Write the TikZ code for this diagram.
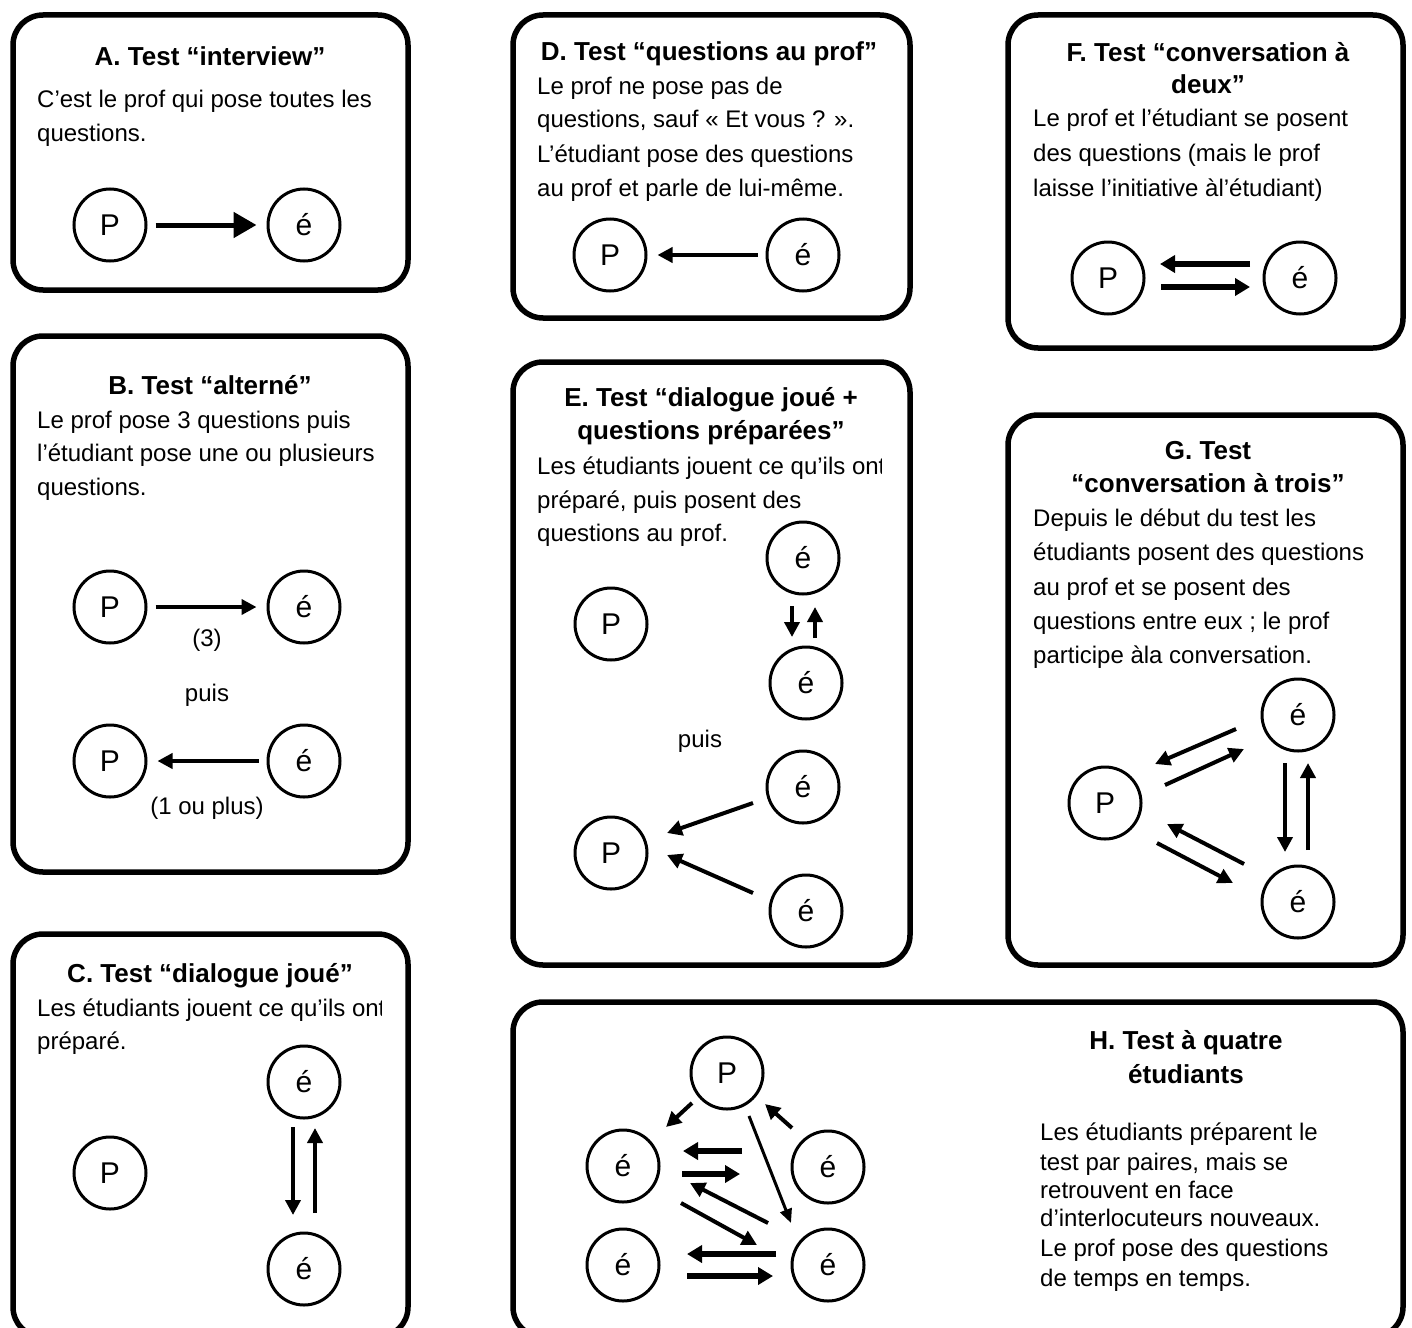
\documentclass[tikz,border=0pt]{standalone}
\usepackage{fontspec}
\setmainfont{Liberation Sans}
\usetikzlibrary{arrows.meta,calc}

\begin{document}
\begin{tikzpicture}[x=1pt,y=-1pt,
  panel/.style={draw, line width=5.5pt, rounded corners=30pt},
  pers/.style={circle, draw, line width=3pt, minimum size=72pt, inner sep=0pt,
               font=\fontsize{30}{30}\selectfont},
  txt/.style={anchor=base west, inner sep=0pt, font=\fontsize{24}{24}\selectfont},
  lbl/.style={anchor=base, inner sep=0pt, font=\fontsize{24}{24}\selectfont},
  ttl/.style={anchor=base, inner sep=0pt, font=\bfseries\fontsize{26}{26}\selectfont},
  bigarr/.style={line width=5pt, -{Triangle[length=23pt,width=25pt]}},
  arr/.style={line width=4.5pt, -{Triangle[length=15pt,width=15pt]}},
  fatarr/.style={line width=6pt, -{Triangle[length=15pt,width=17pt]}},
  midarr/.style={line width=4pt, -{Triangle[length=15pt,width=15pt]}},
  thinarr/.style={line width=3pt, -{Triangle[length=14pt,width=12pt]}},
]
\fill[white] (0,0) rectangle (1412,1327);
\clip (0,0) rectangle (1412,1327);

% ---------- frames ----------
\draw[panel] (13,15) rectangle (408,290);
\draw[panel] (13,336) rectangle (408,872);
\draw[panel] (13,934) rectangle (408,1337);
\draw[panel] (513,15) rectangle (910,318);
\draw[panel] (513,362) rectangle (910,965);
\draw[panel] (1008,15) rectangle (1403,348);
\draw[panel] (1008,415) rectangle (1403,965);
\draw[panel] (513,1002) rectangle (1403,1337);

% ---------- A ----------
\node[ttl] (tA) at (210,66) {A. Test “interview”};
\node[txt] (xA1) at (37,108) {C’est le prof qui pose toutes les};
\node[txt] (xA2) at (37,141) {questions.};
\node[pers] (PA) at (110,225) {P};
\node[pers] (eA) at (304,225) {é};
\draw[bigarr] ($(PA.east)+(8,0)$) -- ($(eA.west)+(-10,0)$);

% ---------- B ----------
\node[ttl] (tB) at (210,394) {B. Test “alterné”};
\node[txt] (xB1) at (37,428) {Le prof pose 3 questions puis};
\node[txt] (xB2) at (37,461) {l’étudiant pose une ou plusieurs};
\node[txt] (xB3) at (37,495) {questions.};
\node[pers] (PB1) at (110,607) {P};
\node[pers] (eB1) at (304,607) {é};
\draw[arr] ($(PB1.east)+(8,0)$) -- ($(eB1.west)+(-10,0)$);
\node[lbl] (nB1) at (207,646) {(3)};
\node[lbl] (nB2) at (207,701) {puis};
\node[pers] (PB2) at (110,761) {P};
\node[pers] (eB2) at (304,761) {é};
\draw[arr] ($(eB2.west)+(-8,0)$) -- ($(PB2.east)+(10,0)$);
\node[lbl] (nB3) at (207,814) {(1 ou plus)};

% ---------- C ----------
\node[ttl] (tC) at (210,982) {C. Test “dialogue joué”};
\begin{scope}
  \clip (20,985) rectangle (381,1030);
  \node[txt] (xC1) at (37,1016) {Les étudiants jouent ce qu’ils ont};
\end{scope}
\node[txt] (xC2) at (37,1049) {préparé.};
\node[pers] (eC1) at (304,1082) {é};
\node[pers] (PC) at (110,1173) {P};
\node[pers] (eC2) at (304,1269) {é};
\draw[arr] ($(eC1)+(-11,45)$) -- ($(eC2)+(-11,-54)$);
\draw[arr] ($(eC2)+(11,-56)$) -- ($(eC1)+(11,46)$);

% ---------- D ----------
\node[ttl] (tD) at (709,61) {D. Test “questions au prof”};
\node[txt] (xD1) at (537,95) {Le prof ne pose pas de};
\node[txt] (xD2) at (537,128) {questions, sauf « Et vous ? ».};
\node[txt] (xD3) at (537,162) {L’étudiant pose des questions};
\node[txt] (xD4) at (537,196) {au prof et parle de lui-même.};
\node[pers] (PD) at (610,255) {P};
\node[pers] (eD) at (803,255) {é};
\draw[arr] ($(eD.west)+(-8,0)$) -- ($(PD.east)+(10,0)$);

% ---------- E ----------
\node[ttl] (tE1) at (711,406) {E. Test “dialogue joué +};
\node[ttl] (tE2) at (711,439) {questions préparées”};
\begin{scope}
  \clip (520,445) rectangle (881,485);
  \node[txt] (xE1) at (537,474) {Les étudiants jouent ce qu’ils ont};
\end{scope}
\node[txt] (xE2) at (537,508) {préparé, puis posent des};
\node[txt] (xE3) at (537,541) {questions au prof.};
\node[pers] (eE1) at (803,558) {é};
\node[pers] (PE1) at (611,624) {P};
\node[pers] (eE2) at (806,683) {é};
\draw[arr] ($(eE1)+(-11,48)$) -- ($(eE2)+(-14,-46)$);
\draw[arr] ($(eE2)+(9,-45)$) -- ($(eE1)+(12,49)$);
\node[lbl] (nE) at (700,747) {puis};
\node[pers] (eE3) at (803,787) {é};
\node[pers] (PE2) at (611,853) {P};
\node[pers] (eE4) at (806,911) {é};
\draw[midarr] ($(eE3)+(-50,16)$) -- ($(PE2)+(56,-20)$);
\draw[midarr] ($(eE4)+(-53,-18)$) -- ($(PE2)+(56,2)$);

% ---------- F ----------
\node[ttl] (tF1) at (1208,62) {F. Test “conversation à};
\node[ttl] (tF2) at (1208,94) {deux”};
\node[txt] (xF1) at (1033,126) {Le prof et l’étudiant se posent};
\node[txt] (xF2) at (1033,161) {des questions (mais le prof};
\node[txt] (xF3) at (1033,196) {laisse l’initiative àl’étudiant)};
\node[pers] (PF) at (1108,278) {P};
\node[pers] (eF) at (1300,278) {é};
\draw[fatarr] ($(eF)+(-50,-14)$) -- ($(PF)+(52,-14)$);
\draw[fatarr] ($(PF)+(53,9)$) -- ($(eF)+(-50,9)$);

% ---------- G ----------
\node[ttl] (tG1) at (1208,459) {G. Test};
\node[ttl] (tG2) at (1208,492) {“conversation à trois”};
\node[txt] (xG1) at (1033,526) {Depuis le début du test les};
\node[txt] (xG2) at (1033,560) {étudiants posent des questions};
\node[txt] (xG3) at (1033,595) {au prof et se posent des};
\node[txt] (xG4) at (1033,629) {questions entre eux ; le prof};
\node[txt] (xG5) at (1033,663) {participe àla conversation.};
\node[pers] (eG1) at (1298,715) {é};
\node[pers] (PG) at (1105,803) {P};
\node[pers] (eG2) at (1298,902) {é};
\draw[midarr] ($(eG1)+(-62,14)$) -- ($(PG)+(50,-39)$);
\draw[midarr] ($(PG)+(60,-18)$) -- ($(eG1)+(-54,34)$);
\draw[arr] ($(eG1)+(-13,48)$) -- ($(eG2)+(-13,-50)$);
\draw[midarr] ($(eG2)+(10,-52)$) -- ($(eG1)+(10,48)$);
\draw[midarr] ($(eG2)+(-54,-38)$) -- ($(PG)+(62,21)$);
\draw[midarr] ($(PG)+(52,40)$) -- ($(eG2)+(-65,-19)$);

% ---------- H ----------
\node[ttl] (tH1) at (1186,1049) {H. Test à quatre};
\node[ttl] (tH2) at (1186,1083) {étudiants};
\node[txt] (xH1) at (1040,1140) {Les étudiants préparent le};
\node[txt] (xH2) at (1040,1170) {test par paires, mais se};
\node[txt] (xH3) at (1040,1198) {retrouvent en face};
\node[txt] (xH4) at (1040,1226) {d’interlocuteurs nouveaux.};
\node[txt] (xH5) at (1040,1256) {Le prof pose des questions};
\node[txt] (xH6) at (1040,1286) {de temps en temps.};
\node[pers] (PH) at (727,1073) {P};
\node[pers] (eH1) at (623,1166) {é};
\node[pers] (eH2) at (828,1167) {é};
\node[pers] (eH3) at (623,1265) {é};
\node[pers] (eH4) at (828,1265) {é};
\draw[midarr] ($(PH)+(-35,30)$) -- ($(eH1)+(43,-39)$);
\draw[midarr] ($(eH2)+(-36,-39)$) -- ($(PH)+(38,31)$);
\draw[thinarr] ($(PH)+(22,43)$) -- ($(eH4)+(-37,-42)$);
\draw[fatarr] ($(eH2)+(-86,-16)$) -- ($(eH1)+(60,-15)$);
\draw[fatarr] ($(eH1)+(59,8)$) -- ($(eH2)+(-88,7)$);
\draw[midarr] ($(eH4)+(-60,-42)$) -- ($(eH1)+(67,17)$);
\draw[midarr] ($(eH1)+(58,37)$) -- ($(eH4)+(-71,-20)$);
\draw[fatarr] ($(eH4)+(-52,-11)$) -- ($(eH3)+(64,-11)$);
\draw[fatarr] ($(eH3)+(64,11)$) -- ($(eH4)+(-55,11)$);
\end{tikzpicture}
\end{document}
